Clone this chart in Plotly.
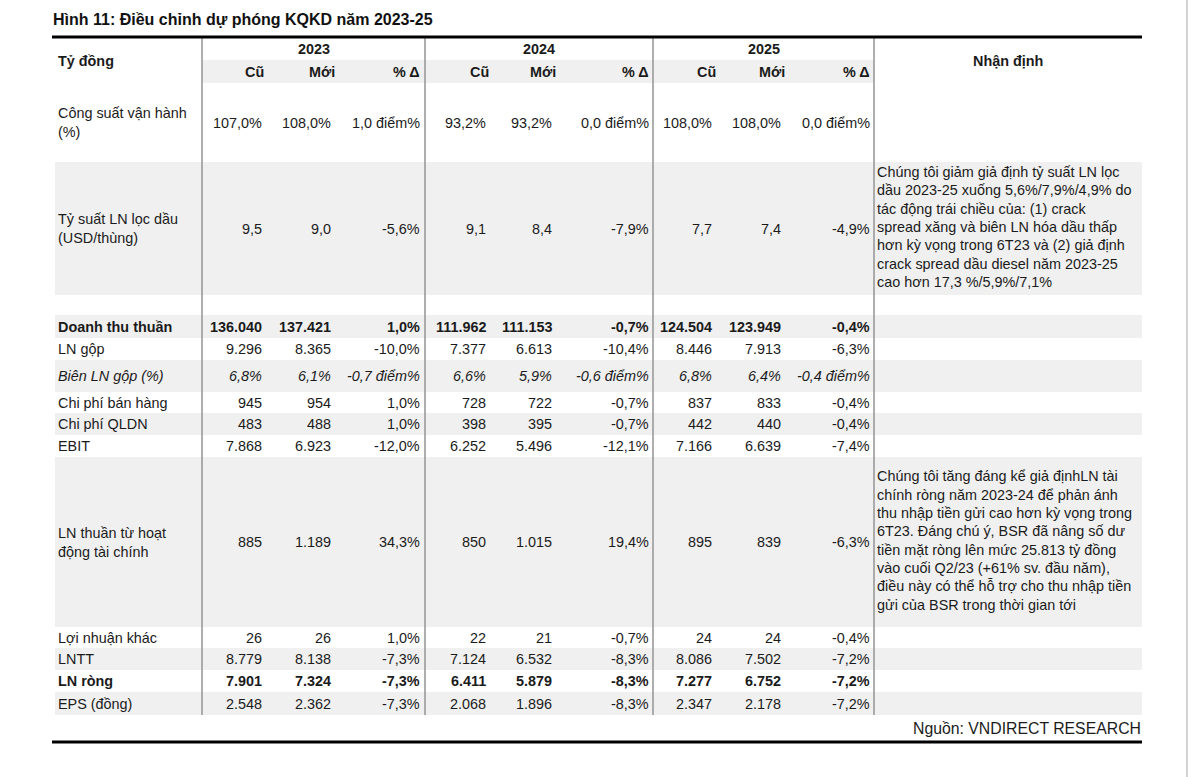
import plotly.graph_objects as go

# ---------------- data ----------------
title = "Hình 11: Điều chỉnh dự phóng KQKD năm 2023-25"
unit_label = "Tỷ đồng"
years = ["2023", "2024", "2025"]
sub_headers = ["Cũ", "Mới", "% Δ"]
comment_header = "Nhận định"
source = "Nguồn: VNDIRECT RESEARCH"

row_labels = [
    "Công suất vận hành<br>(%)",
    "Tỷ suất LN lọc dầu<br>(USD/thùng)",
    "",
    "Doanh thu thuần",
    "LN gộp",
    "Biên LN gộp (%)",
    "Chi phí bán hàng",
    "Chi phí QLDN",
    "EBIT",
    "LN thuần từ hoạt<br>động tài chính",
    "Lợi nhuận khác",
    "LNTT",
    "LN ròng",
    "EPS (đồng)",
]

old_2023 = ["107,0%", "9,5", "", "136.040", "9.296", "6,8%", "945", "483", "7.868", "885", "26", "8.779", "7.901", "2.548"]
new_2023 = ["108,0%", "9,0", "", "137.421", "8.365", "6,1%", "954", "488", "6.923", "1.189", "26", "8.138", "7.324", "2.362"]
chg_2023 = ["1,0 điểm%", "-5,6%", "", "1,0%", "-10,0%", "-0,7 điểm%", "1,0%", "1,0%", "-12,0%", "34,3%", "1,0%", "-7,3%", "-7,3%", "-7,3%"]

old_2024 = ["93,2%", "9,1", "", "111.962", "7.377", "6,6%", "728", "398", "6.252", "850", "22", "7.124", "6.411", "2.068"]
new_2024 = ["93,2%", "8,4", "", "111.153", "6.613", "5,9%", "722", "395", "5.496", "1.015", "21", "6.532", "5.879", "1.896"]
chg_2024 = ["0,0 điểm%", "-7,9%", "", "-0,7%", "-10,4%", "-0,6 điểm%", "-0,7%", "-0,7%", "-12,1%", "19,4%", "-0,7%", "-8,3%", "-8,3%", "-8,3%"]

old_2025 = ["108,0%", "7,7", "", "124.504", "8.446", "6,8%", "837", "442", "7.166", "895", "24", "8.086", "7.277", "2.347"]
new_2025 = ["108,0%", "7,4", "", "123.949", "7.913", "6,4%", "833", "440", "6.639", "839", "24", "7.502", "6.752", "2.178"]
chg_2025 = ["0,0 điểm%", "-4,9%", "", "-0,4%", "-6,3%", "-0,4 điểm%", "-0,4%", "-0,4%", "-7,4%", "-6,3%", "-0,4%", "-7,2%", "-7,2%", "-7,2%"]

comment_1 = [
    "Chúng tôi giảm giả định tỷ suất LN lọc",
    "dầu 2023-25 xuống 5,6%/7,9%/4,9% do",
    "tác động trái chiều của: (1) crack",
    "spread xăng và biên LN hóa dầu thấp",
    "hơn kỳ vọng trong 6T23 và (2) giả định",
    "crack spread dầu diesel năm 2023-25",
    "cao hơn 17,3 %/5,9%/7,1%",
]
comment_2 = [
    "Chúng tôi tăng đáng kể giả địnhLN tài",
    "chính ròng năm 2023-24 để phản ánh",
    "thu nhập tiền gửi cao hơn kỳ vọng trong",
    "6T23. Đáng chú ý, BSR đã nâng số dư",
    "tiền mặt ròng lên mức 25.813 tỷ đồng",
    "vào cuối Q2/23 (+61% sv. đầu năm),",
    "điều này có thể hỗ trợ cho thu nhập tiền",
    "gửi của BSR trong thời gian tới",
]
comments = [[], comment_1, [], [], [], [], [], [], [], comment_2, [], [], [], []]

# ---------------- styles / layout ----------------
W, H = 1200, 777
FONT = "Liberation Sans, Arial, Helvetica, sans-serif"
TXT = "#1b1b1b"
GRAY = "#f0f0f0"
LINE_GRAY = "#9a9a9a"
FS = 14.4
COMMENT_LINE = 18.3

row_heights = [79, 133, 20, 23, 22, 32, 21, 22, 22, 170, 21, 22, 22, 23]
row_shaded = [False, True, False, True, False, True, False, True, False, True, False, True, False, True]
bold_rows = {3, 12}
italic_rows = {5}

table_top_y = 83
left_x, right_x = 52, 1142
label_x = 57
band_left = 55
group_edges = [202, 425, 653, 874]
value_right = [[263, 332, 421], [487, 553, 650], [713, 782, 871]]
header_right = [[265, 336, 421], [490, 557, 650], [717, 786, 871]]
comment_x = 876

year_data = [
    (old_2023, new_2023, chg_2023),
    (old_2024, new_2024, chg_2024),
    (old_2025, new_2025, chg_2025),
]

fig = go.Figure()
shapes = []
annotations = []


def ann(x, y, text, xanchor="left", size=FS, bold=False, italic=False, color=TXT, align="left"):
    t = text
    if bold:
        t = "<b>" + t + "</b>"
    if italic:
        t = "<i>" + t + "</i>"
    annotations.append(dict(
        x=x, y=y, xref="x", yref="y", text=t, showarrow=False,
        xanchor=xanchor, yanchor="middle", align=align,
        font=dict(family=FONT, size=size, color=color), borderpad=0,
    ))


# header band
shapes.append(dict(type="rect", xref="x", yref="y", x0=group_edges[0], x1=group_edges[3],
                   y0=60, y1=83, fillcolor=GRAY, line=dict(width=0), layer="below"))

# row bands
y = table_top_y
row_centers = []
for i, h in enumerate(row_heights):
    if row_shaded[i]:
        shapes.append(dict(type="rect", xref="x", yref="y", x0=band_left, x1=right_x,
                           y0=y, y1=y + h, fillcolor=GRAY, line=dict(width=0), layer="below"))
    row_centers.append(y + h / 2)
    y += h
table_bottom = y

# vertical separators
for gx in group_edges:
    shapes.append(dict(type="line", xref="x", yref="y", x0=gx, x1=gx, y0=38, y1=table_bottom,
                       line=dict(color=LINE_GRAY, width=1.6)))

# thick rules
shapes.append(dict(type="line", xref="x", yref="y", x0=left_x, x1=right_x, y0=37, y1=37,
                   line=dict(color="#000000", width=3)))
shapes.append(dict(type="line", xref="x", yref="y", x0=left_x, x1=right_x, y0=742, y1=742,
                   line=dict(color="#000000", width=3)))
# page border at right
shapes.append(dict(type="line", xref="x", yref="y", x0=1187, x1=1187, y0=0, y1=H,
                   line=dict(color="#c4c4c4", width=1.5)))

# title
ann(52, 19, title, size=16, bold=True, color="#111111")

# header
ann(label_x, 61, unit_label, bold=True)
ann(1008, 61, comment_header, xanchor="center", bold=True)
for g, yr in enumerate(years):
    cx = (group_edges[g] + group_edges[g + 1]) / 2
    ann(cx, 49, yr, xanchor="center", bold=True)
    for k, sh in enumerate(sub_headers):
        ann(header_right[g][k], 72, sh, xanchor="right", bold=True)

# body
for i, lab in enumerate(row_labels):
    if not lab:
        continue
    cy = row_centers[i]
    b = i in bold_rows
    it = i in italic_rows
    ann(label_x, cy, lab, bold=b, italic=it)
    for g, cols in enumerate(year_data):
        for k in range(3):
            ann(value_right[g][k], cy, cols[k][i], xanchor="right", bold=b, italic=it)
    lines = comments[i]
    if lines:
        n = len(lines)
        y0 = cy - 1.5 - (n - 1) * COMMENT_LINE / 2
        for j, line in enumerate(lines):
            ann(comment_x, y0 + j * COMMENT_LINE, line)

# source
ann(right_x, 728, source, xanchor="right", size=15.8)

fig.update_layout(
    width=W, height=H, autosize=False,
    margin=dict(l=0, r=0, t=0, b=0),
    paper_bgcolor="white", plot_bgcolor="white",
    xaxis=dict(range=[0, W], visible=False, fixedrange=True),
    yaxis=dict(range=[H, 0], visible=False, fixedrange=True),
    shapes=shapes, annotations=annotations, showlegend=False,
)

fig.write_html("out.html", config={"displayModeBar": False},
               post_script="document.body.style.margin='0';document.body.style.overflow='hidden';")
